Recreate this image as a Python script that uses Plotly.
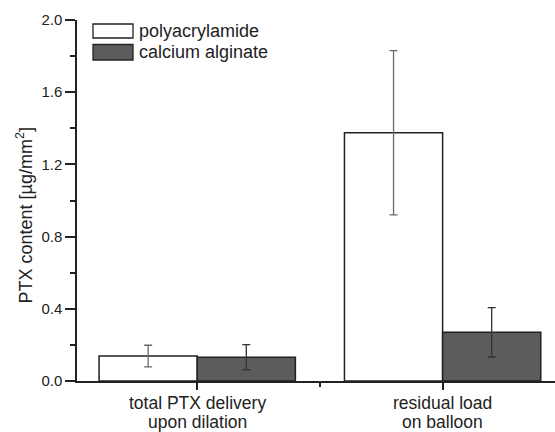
import plotly.graph_objects as go

# ---- data ----
categories = ["total PTX delivery<br>upon dilation", "residual load<br>on balloon"]
series_names = ["polyacrylamide", "calcium alginate"]
poly_values = [0.138, 1.375]
poly_errors = [0.060, 0.455]
alg_values = [0.132, 0.270]
alg_errors = [0.069, 0.137]
y_ticks = [0.0, 0.4, 0.8, 1.2, 1.6, 2.0]

FONT = "Arial, Liberation Sans, sans-serif"
INK = "#222222"
DARK = "#5c5c5c"

W, H = 555, 432
ML, MR, MT, MB = 77, 0, 20, 51
PW, PH = W - ML - MR, H - MT - MB


def px_x(p):
    return (p - ML) / PW


def px_y(p):
    return (H - MB - p) / PH


x_pos = list(range(len(categories)))

fig = go.Figure()
fig.add_trace(go.Bar(
    x=x_pos, y=poly_values, name=series_names[0],
    marker=dict(color="white", line=dict(color=INK, width=1.5)),
    error_y=dict(type="data", array=poly_errors, color="#6a6a6a", thickness=1.3, width=4),
    showlegend=False,
))
fig.add_trace(go.Bar(
    x=x_pos, y=alg_values, name=series_names[1],
    marker=dict(color=DARK, line=dict(color=INK, width=1.5)),
    error_y=dict(type="data", array=alg_errors, color="#333333", thickness=1.3, width=4),
    showlegend=False,
))

# legend drawn manually (boxes + labels)
legend_fills = ["white", DARK]
box_tops = [24, 44.5]
box_bots = [38, 60]
text_centers = [31, 51.5]
for name, fill, t, b, c in zip(series_names, legend_fills, box_tops, box_bots, text_centers):
    fig.add_shape(type="rect", xref="paper", yref="paper",
                  x0=px_x(93), x1=px_x(133), y0=px_y(b), y1=px_y(t),
                  fillcolor=fill, line=dict(color=INK, width=1.3))
    fig.add_annotation(text=name, xref="paper", yref="paper",
                       x=px_x(137), y=px_y(c), xanchor="left", yanchor="middle",
                       showarrow=False, font=dict(family=FONT, size=18, color=INK))

# category labels (two lines each, tight spacing as in the reference)
line_centers = [402.5, 422.5]
for xp, label in zip(x_pos, categories):
    for line, yc in zip(label.split("<br>"), line_centers):
        fig.add_annotation(text=line, xref="x", yref="paper", x=xp, y=px_y(yc),
                           xanchor="center", yanchor="middle", showarrow=False,
                           font=dict(family=FONT, size=17.5, color=INK))

# y-axis title
fig.add_annotation(text="PTX content [µg/mm<sup>2</sup>]", xref="paper", yref="paper",
                   x=px_x(25), y=px_y(215.5), textangle=-90, showarrow=False,
                   xanchor="center", yanchor="middle",
                   font=dict(family=FONT, size=18, color=INK))

fig.update_layout(
    width=W, height=H,
    margin=dict(l=ML, r=MR, t=MT, b=MB, pad=0),
    paper_bgcolor="white", plot_bgcolor="white",
    barmode="group", bargap=0.2, bargroupgap=0,
    font=dict(family=FONT, color=INK),
    showlegend=False,
)
fig.update_xaxes(
    range=[-0.49, 1.458], tickvals=x_pos, showticklabels=False,
    showline=True, linecolor=INK, linewidth=1.5, showgrid=False, zeroline=False,
    ticks="outside", ticklen=7, tickwidth=1.5, tickcolor=INK,
    minor=dict(tickvals=[0.5], ticks="outside", ticklen=4, tickwidth=1.5, tickcolor=INK),
)
fig.update_yaxes(
    range=[0, 2.0], tickvals=y_ticks, ticktext=[f"{v:.1f}" for v in y_ticks],
    showline=True, linecolor=INK, linewidth=1.5, showgrid=False, zeroline=False,
    ticks="outside", ticklen=10, tickwidth=1.5, tickcolor=INK,
    tickfont=dict(family=FONT, size=15, color=INK),
    minor=dict(dtick=0.2, ticks="outside", ticklen=5, tickwidth=1.5, tickcolor=INK),
)

fig.write_html("out.html", config={"displayModeBar": False},
               post_script="document.body.style.margin='0';")
